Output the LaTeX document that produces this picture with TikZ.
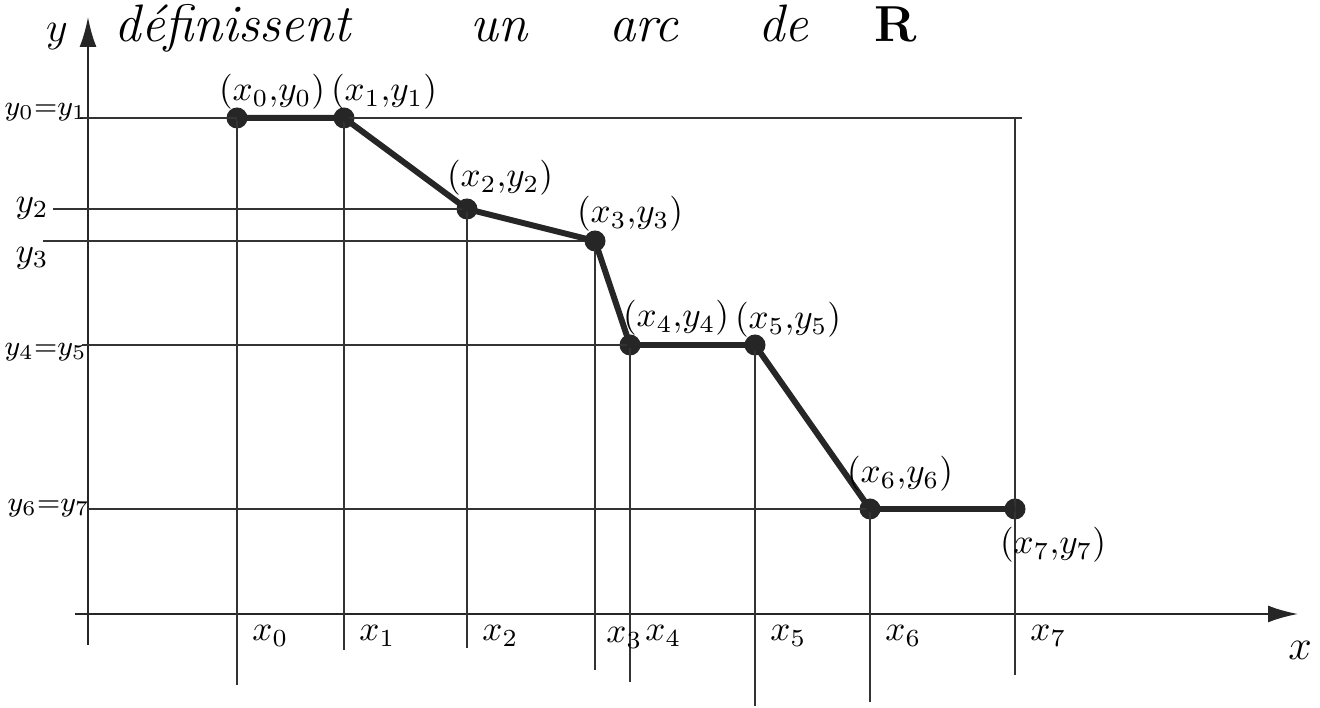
\documentclass[tikz,border=0pt]{standalone}
\usetikzlibrary{arrows.meta}
\begin{document}
\begin{tikzpicture}[every node/.style={font=\large},
  dot/.style={circle, fill=black!85, inner sep=0pt, minimum size=0.21cm},
  guide/.style={line width=0.5pt, black!80},
  curve/.style={line width=1.7pt, black!85},
  plab/.style={font=\normalsize, inner sep=1pt},
  ylab/.style={anchor=west, font=\footnotesize, inner sep=0pt},
  xlab/.style={anchor=west, font=\normalsize}]
  \useasboundingbox (0,0) rectangle (13.2,7.08);

  % heading
  \node[anchor=base west, inner sep=0pt, font=\fontsize{15}{18}\selectfont\itshape] (titre) at (1.14,6.66)
    {définissent\hspace{1.2cm}un\hspace{0.82cm}arc\hspace{0.8cm}de\hspace{0.66cm}$\mathbf{R}$};

  % axes
  \coordinate (xa) at (0.75,0.94);
  \coordinate (xb) at (12.98,0.94);
  \coordinate (ya) at (0.88,0.63);
  \coordinate (yb) at (0.88,6.91);
  \draw[line width=0.6pt, black!85, -{Latex[length=3mm,width=1.7mm]}] (xa) -- (xb);
  \draw[line width=0.6pt, black!85, -{Latex[length=3mm,width=1.7mm]}] (ya) -- (yb);
  \node (lx) at (13.0,0.58) {$x$};
  \node (ly) at (0.57,6.71) {$y$};

  % the points of the arc
  \node[dot] (p0) at (2.37,5.90) {};
  \node[dot] (p1) at (3.44,5.90) {};
  \node[dot] (p2) at (4.67,4.99) {};
  \node[dot] (p3) at (5.95,4.67) {};
  \node[dot] (p4) at (6.30,3.63) {};
  \node[dot] (p5) at (7.55,3.63) {};
  \node[dot] (p6) at (8.70,1.99) {};
  \node[dot] (p7) at (10.15,1.99) {};

  % horizontal guides
  \draw[guide] (0.80,5.90) -- (10.22,5.90);
  \draw[guide] (0.53,4.99) -- (p2.center);
  \draw[guide] (0.43,4.67) -- (p3.center);
  \draw[guide] (0.82,3.63) -- (p4.center);
  \draw[guide] (0.88,1.99) -- (p6.center);

  % vertical guides
  \draw[guide] (p0.center) -- (2.37,0.23);
  \draw[guide] (p1.center) -- (3.44,0.58);
  \draw[guide] (p2.center) -- (4.67,0.60);
  \draw[guide] (p3.center) -- (5.95,0.38);
  \draw[guide] (p4.center) -- (6.30,0.26);
  \draw[guide] (p5.center) -- (7.55,0.02);
  \draw[guide] (p6.center) -- (8.70,0.06);
  \draw[guide] (10.15,5.90) -- (10.15,0.33);

  % the arc
  \draw[curve] (p0.center) -- (p1.center) -- (p2.center) -- (p3.center)
    -- (p4.center) -- (p5.center) -- (p6.center) -- (p7.center);

  % point labels
  \node[plab] (l0) at (2.72,6.16) {$(x_0{,}y_0)$};
  \node[plab] (l1) at (3.84,6.16) {$(x_1{,}y_1)$};
  \node[plab] (l2) at (5.00,5.30) {$(x_2{,}y_2)$};
  \node[plab] (l3) at (6.30,4.94) {$(x_3{,}y_3)$};
  \node[plab] (l4) at (6.76,3.90) {$(x_4{,}y_4)$};
  \node[plab] (l5) at (7.88,3.88) {$(x_5{,}y_5)$};
  \node[plab] (l6) at (9.00,2.34) {$(x_6{,}y_6)$};
  \node[plab] (l7) at (10.53,1.63) {$(x_7{,}y_7)$};

  % y labels
  \node[ylab] (ty0) at (0.04,5.96) {$y_0{=}y_1$};
  \node[ylab, font=\normalsize] (ty2) at (0.15,5.00) {$y_2$};
  \node[ylab, font=\normalsize] (ty3) at (0.15,4.50) {$y_3$};
  \node[ylab] (ty4) at (0.04,3.56) {$y_4{=}y_5$};
  \node[ylab] (ty6) at (0.07,2.00) {$y_6{=}y_7$};

  % x labels
  \node[xlab] (tx0) at (2.40,0.72) {$x_0$};
  \node[xlab] (tx1) at (3.47,0.72) {$x_1$};
  \node[xlab] (tx2) at (4.70,0.72) {$x_2$};
  \node[xlab] (tx3) at (5.94,0.70) {$x_3$};
  \node[xlab] (tx4) at (6.33,0.72) {$x_4$};
  \node[xlab] (tx5) at (7.58,0.72) {$x_5$};
  \node[xlab] (tx6) at (8.73,0.72) {$x_6$};
  \node[xlab] (tx7) at (10.18,0.72) {$x_7$};
\end{tikzpicture}
\end{document}
